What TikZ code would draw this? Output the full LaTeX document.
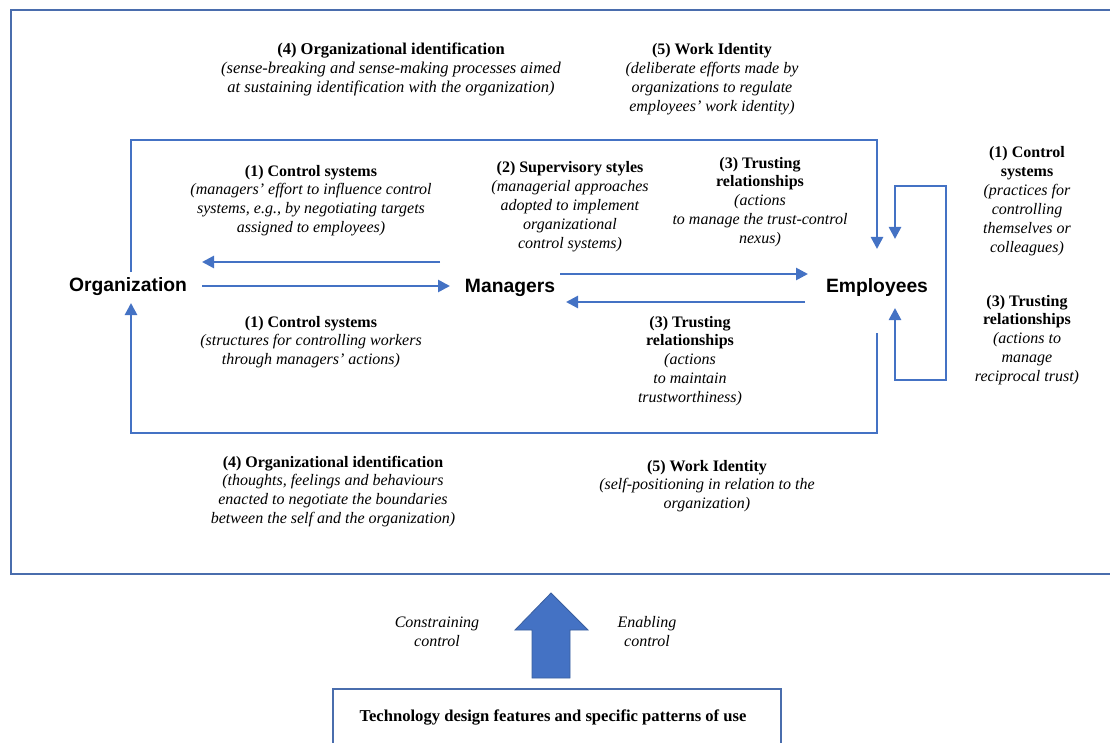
\documentclass[tikz,border=0pt]{standalone}
\usepackage{fontspec}
\setmainfont{Liberation Serif}
\newfontfamily\arialb{Liberation Sans}
\usetikzlibrary{arrows.meta}
\definecolor{lblue}{HTML}{4472C4}
\definecolor{fblue}{HTML}{4A6DAD}
\definecolor{dblue}{HTML}{3A5F9F}
\begin{document}
\begin{tikzpicture}[x=1pt,y=-1pt,
  lbl/.style={align=center,font=\fontsize{16}{18.8}\selectfont,anchor=base,inner sep=0pt},
  ent/.style={font=\arialb\bfseries\fontsize{19.3}{22}\selectfont,inner sep=0pt},
  link/.style={draw=lblue,line width=2.6pt,line join=miter},
  arr/.style={link,-{Triangle[length=12pt,width=12pt]}}]
\useasboundingbox (0,0) rectangle (1110,743);
% outer frame
\draw[fblue,line width=2pt] (1115,10) -- (11,10) -- (11,574) -- (1115,574);
% technology box
\node[draw=fblue,line width=2pt,minimum width=448pt,minimum height=80pt,anchor=north west,inner sep=0pt] (tech) at (332,688) {};
\node[font=\bfseries\fontsize{16.6}{18}\selectfont,anchor=base] (techt) at (553,721) {Technology design features and specific patterns of use};
% big arrow
\draw[fill=lblue,draw=dblue,line width=0.8pt] (532,678) -- (532,630) -- (515,630) -- (551,593) -- (588,630) -- (570,630) -- (570,678) -- cycle;
\node[lbl,font=\itshape\fontsize{16}{18.8}\selectfont] (cons) at (437,646) {Constraining\\control};
\node[lbl,font=\itshape\fontsize{16}{18.8}\selectfont] (enab) at (647,646) {Enabling\\control};

% entities
\node[ent] (org) at (128,287) {Organization};
\node[ent] (mgr) at (510,288) {Managers};
\node[ent] (emp) at (877,288) {Employees};

% horizontal arrows
\coordinate (mo1) at (440,262); \coordinate (mo2) at (202,262);
\coordinate (om1) at (202,286); \coordinate (om2) at (450,286);
\coordinate (me1) at (560,274); \coordinate (me2) at (808,274);
\coordinate (em1) at (805,302); \coordinate (em2) at (566,302);
\draw[arr] (mo1) -- (mo2);
\draw[arr] (om1) -- (om2);
\draw[arr] (me1) -- (me2);
\draw[arr] (em1) -- (em2);

% big loop
\coordinate (ot) at (131,272); \coordinate (et) at (877,249);
\coordinate (eb) at (877,333); \coordinate (ob) at (131,303);
\draw[arr] (ot) -- (131,140) -- (877,140) -- (et);
\draw[arr] (eb) -- (877,433) -- (131,433) -- (ob);

% self loop
\coordinate (sm) at (946,283);
\coordinate (st) at (895,239); \coordinate (sb) at (895,308);
\draw[arr] (sm) -- (946,186) -- (895,186) -- (st);
\draw[arr] (sm) -- (946,380) -- (895,380) -- (sb);

% labels (anchor = baseline of last line)
\node[lbl,font=\fontsize{16.5}{18.8}\selectfont] (l4t) at (391,92.6) {\textbf{(4) Organizational identification}\\\textit{(sense-breaking and sense-making processes aimed}\\\textit{at sustaining identification with the organization)}};
\node[lbl] (l5t) at (712,111.4) {\textbf{(5) Work Identity}\\\textit{(deliberate efforts made by}\\\textit{organizations to regulate}\\\textit{employees' work identity)}};
\node[lbl] (l1u) at (311,232.4) {\textbf{(1) Control systems}\\\textit{(managers' effort to influence control}\\\textit{systems, e.g., by negotiating targets}\\\textit{assigned to employees)}};
\node[lbl] (l2) at (570,248.2) {\textbf{(2) Supervisory styles}\\\textit{(managerial approaches}\\\textit{adopted to implement}\\\textit{organizational}\\\textit{control systems)}};
\node[lbl] (l3u) at (760,243.2) {\textbf{(3) Trusting}\\\textbf{relationships}\\\textit{(actions}\\\textit{to manage the trust-control}\\\textit{nexus)}};
\node[lbl] (l1r) at (1027,252) {\textbf{(1) Control}\\\textbf{systems}\\\textit{(practices for}\\\textit{controlling}\\\textit{themselves or}\\\textit{colleagues)}};
\node[lbl] (l3r) at (1027,381.2) {\textbf{(3) Trusting}\\\textbf{relationships}\\\textit{(actions to}\\\textit{manage}\\\textit{reciprocal trust)}};
\node[lbl] (l1l) at (311,364.6) {\textbf{(1) Control systems}\\\textit{(structures for controlling workers}\\\textit{through managers' actions)}};
\node[lbl] (l3l) at (690,402.2) {\textbf{(3) Trusting}\\\textbf{relationships}\\\textit{(actions}\\\textit{to maintain}\\\textit{trustworthiness)}};
\node[lbl] (l4b) at (333,523.4) {\textbf{(4) Organizational identification}\\\textit{(thoughts, feelings and behaviours}\\\textit{enacted to negotiate the boundaries}\\\textit{between the self and the organization)}};
\node[lbl] (l5b) at (707,508.6) {\textbf{(5) Work Identity}\\\textit{(self-positioning in relation to the}\\\textit{organization)}};
\end{tikzpicture}
\end{document}
